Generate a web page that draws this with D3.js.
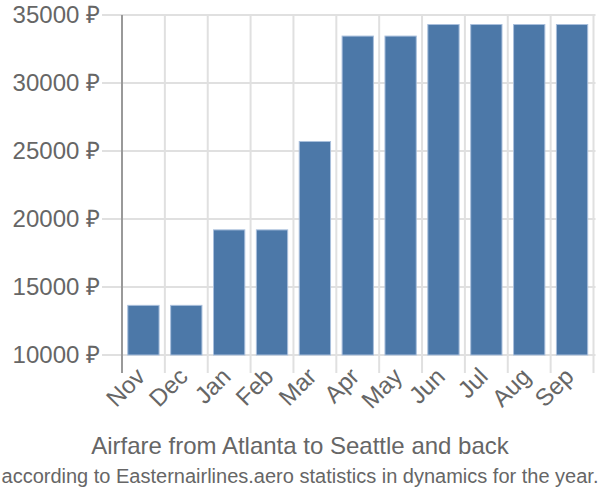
<!DOCTYPE html>
<html><head><meta charset="utf-8">
<script src="https://cdn.jsdelivr.net/npm/d3@7"></script>
<style>body{margin:0;background:#fff}svg{display:block}</style>
</head><body>
<svg id="c" width="600" height="500"></svg>
<script>
const months = ["Nov","Dec","Jan","Feb","Mar","Apr","May","Jun","Jul","Aug","Sep"];
const prices = [13650,13650,19200,19200,25700,33450,33450,34300,34300,34300,34300];
const yTicks = [10000,15000,20000,25000,30000,35000];
const title = "Airfare from Atlanta to Seattle and back";
const subtitle = "according to Easternairlines.aero statistics in dynamics for the year.";

(function(){
const svg = d3.select("#c");
const font = "Liberation Sans, Arial, sans-serif";
const pl = 122, pr = 593.5, pt = 15, pb = 355;
const x = d3.scaleBand().domain(months).range([pl, pr]).paddingInner(0.27).paddingOuter(0.135);
const y = d3.scaleLinear().domain([10000, 35000]).range([pb, pt]);
const step = x.step();
const grid = "#e0e0e0";

svg.append("g").selectAll("line").data(yTicks).join("line")
  .attr("x1", pl - 20).attr("x2", pr + 2)
  .attr("y1", d => y(d)).attr("y2", d => y(d))
  .attr("stroke", grid).attr("stroke-width", 2);
const bounds = months.map((m,i) => pl + (i+1)*step);
svg.append("g").selectAll("line").data(bounds).join("line")
  .attr("x1", d => d).attr("x2", d => d)
  .attr("y1", pt).attr("y2", pb + 18)
  .attr("stroke", grid).attr("stroke-width", 2);

svg.append("g").selectAll("rect").data(months).join("rect")
  .attr("x", d => x(d)).attr("width", x.bandwidth())
  .attr("y", (d,i) => y(prices[i])).attr("height", (d,i) => pb - y(prices[i]))
  .attr("fill", "#4c78a8").attr("stroke", "#a9bfdc").attr("stroke-width", 1);

svg.append("line").attr("x1", pl).attr("x2", pl).attr("y1", pt).attr("y2", pb + 18)
  .attr("stroke", "#999").attr("stroke-width", 2);

svg.append("g").selectAll("text").data(yTicks).join("text")
  .attr("x", 100).attr("y", d => y(d)).attr("dy", "0.35em")
  .attr("text-anchor", "end").attr("font-family", font).attr("font-size", 24)
  .attr("fill", "#666").text(d => d + " ₽");

svg.append("g").selectAll("text").data(months).join("text")
  .attr("transform", d => `translate(${x(d) + x.bandwidth()/2 + 3},${pb + 23}) rotate(-45)`)
  .attr("text-anchor", "end").attr("font-family", font).attr("font-size", 24)
  .attr("fill", "#666").text(d => d);

svg.append("text").attr("x", 300).attr("y", 454).attr("text-anchor", "middle")
  .attr("font-family", font).attr("font-size", 24).attr("fill", "#666").text(title);
svg.append("text").attr("x", 300).attr("y", 483).attr("text-anchor", "middle")
  .attr("font-family", font).attr("font-size", 20).attr("fill", "#666").text(subtitle);
})();
</script>
</body></html>
